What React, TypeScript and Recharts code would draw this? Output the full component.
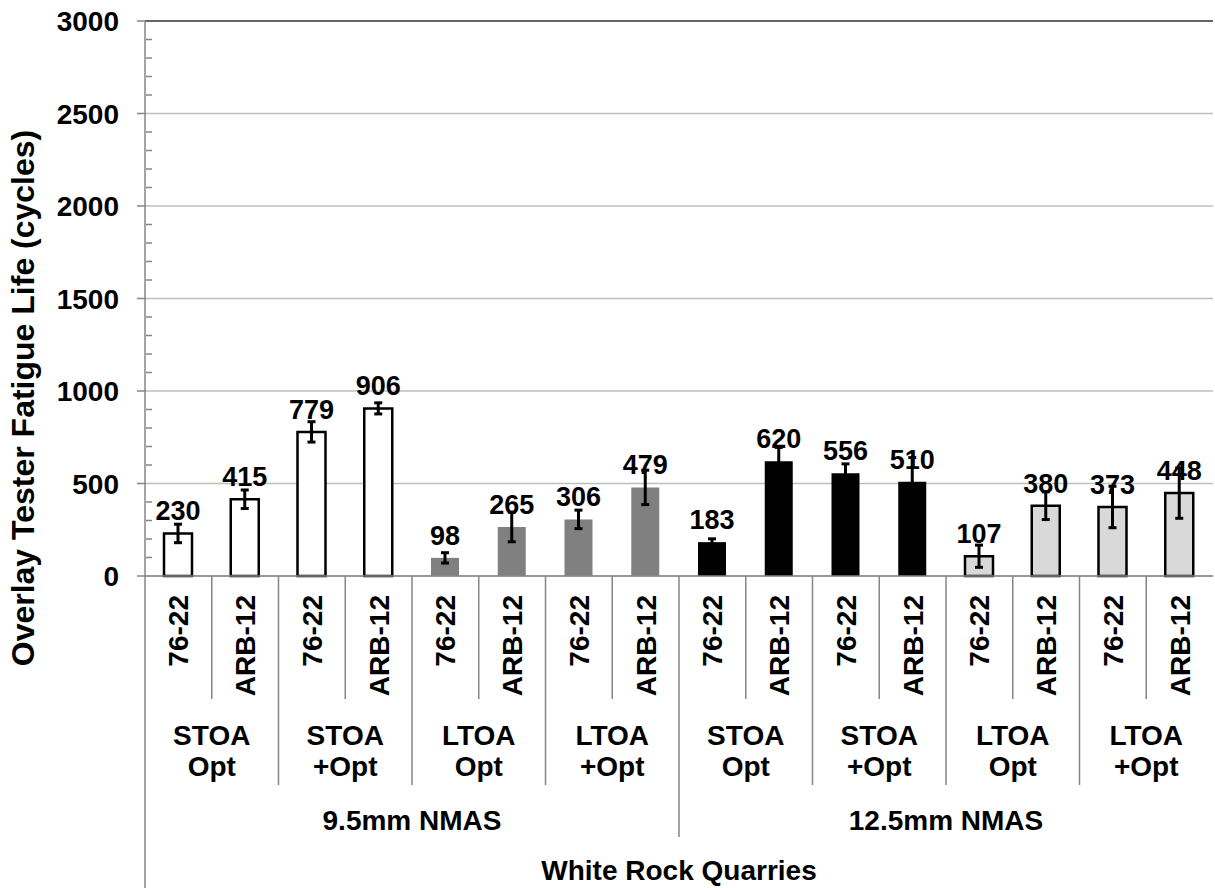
import { BarChart, Bar, XAxis, YAxis, CartesianGrid, Cell, ErrorBar, LabelList, ReferenceLine } from 'recharts'

// ─── Data ─────────────────────────────────────────────────────────────────────

const binders = [
  '76-22', 'ARB-12', '76-22', 'ARB-12', '76-22', 'ARB-12', '76-22', 'ARB-12',
  '76-22', 'ARB-12', '76-22', 'ARB-12', '76-22', 'ARB-12', '76-22', 'ARB-12',
]
const conditions = [
  ['STOA', 'Opt'], ['STOA', '+Opt'], ['LTOA', 'Opt'], ['LTOA', '+Opt'],
  ['STOA', 'Opt'], ['STOA', '+Opt'], ['LTOA', 'Opt'], ['LTOA', '+Opt'],
]
const mixes = ['9.5mm NMAS', '12.5mm NMAS']
const quarry = 'White Rock Quarries'

const fatigueLife = [230, 415, 779, 906, 98, 265, 306, 479, 183, 620, 556, 510, 107, 380, 373, 448]
const fatigueError = [50, 50, 55, 30, 28, 80, 50, 93, 18, 75, 50, 130, 60, 75, 112, 136]

const yTicks = [0, 500, 1000, 1500, 2000, 2500, 3000]

// ─── Layout ───────────────────────────────────────────────────────────────────

const W = 1215
const H = 888
const TOP = 21
const RIGHT = 2
const Y_AXIS_W = 145
const X_AXIS_H = 312
const PLOT_W = W - Y_AXIS_W - RIGHT
const PLOT_H = H - TOP - X_AXIS_H
const BAND = PLOT_W / binders.length
const BASE = TOP + PLOT_H
const FONT = '"Liberation Sans", Arial, sans-serif'

// fill per condition group (2 bars each)
const groupStyle = [
  { fill: '#ffffff', stroke: '#000000' },
  { fill: '#ffffff', stroke: '#000000' },
  { fill: '#808080', stroke: 'none' },
  { fill: '#808080', stroke: 'none' },
  { fill: '#000000', stroke: 'none' },
  { fill: '#000000', stroke: 'none' },
  { fill: '#d9d9d9', stroke: '#000000' },
  { fill: '#d9d9d9', stroke: '#000000' },
]

const rows = binders.map((b, i) => ({
  key: `${i}`,
  binder: b,
  life: fatigueLife[i],
  err: fatigueError[i],
}))

// ─── Axis ticks ───────────────────────────────────────────────────────────────

function YTick(props: any) {
  const { x, y, payload } = props
  const axisX = x + 9
  const minor = PLOT_H / 30
  return (
    <g>
      <line x1={axisX - 9} x2={axisX} y1={y} y2={y} stroke="#868686" strokeWidth={1.5} />
      {payload.value > 0 &&
        [1, 2, 3, 4].map((k) => (
          <line key={k} x1={axisX} x2={axisX + 6} y1={y + k * minor} y2={y + k * minor} stroke="#868686" strokeWidth={1.5} />
        ))}
      <text x={axisX - 27} y={y + 10} textAnchor="end" fontFamily={FONT} fontWeight="bold" fontSize={28} fill="#000">
        {payload.value}
      </text>
    </g>
  )
}

function XTick(props: any) {
  const { x, payload } = props
  const i = payload.index
  const left = x - BAND / 2
  const sepEnd = i === 0 ? H : i % 8 === 0 ? 837 : i % 2 === 0 ? 785 : 699
  const txt = { fontFamily: FONT, fontWeight: 'bold' as const, fill: '#000' }
  return (
    <g>
      <line x1={left} x2={left} y1={BASE} y2={sepEnd} stroke="#868686" strokeWidth={1.5} />
      <text transform={`translate(${x + 10},${595}) rotate(-90)`} textAnchor="end" fontSize={28} {...txt}>
        {binders[i]}
      </text>
      {i % 2 === 0 && (
        <text x={left + BAND} textAnchor="middle" fontSize={28} {...txt}>
          <tspan x={left + BAND} y={745}>{conditions[i / 2][0]}</tspan>
          <tspan x={left + BAND} y={776}>{conditions[i / 2][1]}</tspan>
        </text>
      )}
      {i % 8 === 0 && (
        <text x={left + BAND * 4} y={830} textAnchor="middle" fontSize={28} {...txt}>
          {mixes[i / 8]}
        </text>
      )}
      {i === 0 && (
        <text x={left + PLOT_W / 2} y={880} textAnchor="middle" fontSize={28} {...txt}>
          {quarry}
        </text>
      )}
    </g>
  )
}

function ValueLabel(props: any) {
  const { x, y, width, value } = props
  return (
    <text x={x + width / 2} y={y - 13} textAnchor="middle" fontFamily={FONT} fontWeight="bold" fontSize={27} fill="#000">
      {value}
    </text>
  )
}

// ─── Component ────────────────────────────────────────────────────────────────

export default function App() {
  return (
    <div style={{ position: 'absolute', left: 0, top: 0, background: '#fff' }}>
      <BarChart width={W} height={H} data={rows} margin={{ top: TOP, right: RIGHT, left: 0, bottom: 0 }} barSize={28}>
        <CartesianGrid vertical={false} horizontalValues={yTicks} stroke="#bfbfbf" strokeWidth={1.5} />
        <ReferenceLine y={3000} stroke="#404040" strokeWidth={1.5} />
        <YAxis
          width={Y_AXIS_W}
          domain={[0, 3000]}
          ticks={yTicks}
          interval={0}
          axisLine={{ stroke: '#868686', strokeWidth: 1.5 }}
          tickLine={false}
          tick={<YTick />}
          label={{
            content: () => (
              <text
                transform={`translate(${34},${398}) rotate(-90)`}
                textAnchor="middle"
                fontFamily={FONT}
                fontWeight="bold"
                fontSize={32}
                fill="#000"
              >
                Overlay Tester Fatigue Life (cycles)
              </text>
            ),
          }}
        />
        <XAxis
          dataKey="key"
          height={X_AXIS_H}
          interval={0}
          axisLine={{ stroke: '#868686', strokeWidth: 1.5 }}
          tickLine={false}
          tick={<XTick />}
        />
        <Bar dataKey="life" isAnimationActive={false} strokeWidth={2.5}>
          {rows.map((r, i) => (
            <Cell key={r.key} fill={groupStyle[Math.floor(i / 2)].fill} stroke={groupStyle[Math.floor(i / 2)].stroke} />
          ))}
          <ErrorBar dataKey="err" width={4} stroke="#000" strokeWidth={3} isAnimationActive={false} />
          <LabelList dataKey="life" content={<ValueLabel />} />
        </Bar>
      </BarChart>
    </div>
  )
}
